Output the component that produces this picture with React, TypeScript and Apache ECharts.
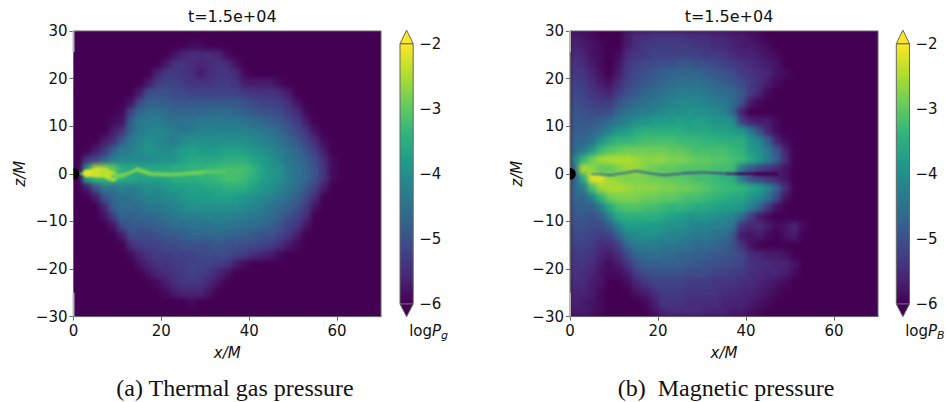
import React, { useEffect, useRef } from "react";
import * as echarts from "echarts";

// Levels are tenths of a dex above logP = -6 (0 => -6, 40 => -2). Rows run z=+29 ... z=-29 (step 2), columns x=1,3,5... (step 2); missing cells are 0.
const gasRows: number[][] = [
  [],
  [0,0,0,0,0,0,0,0,0,0,0,0,0,1,1],
  [0,0,0,0,0,0,0,0,0,0,0,2,4,5,5,5,4,1],
  [0,0,0,0,0,0,0,0,0,0,3,6,6,5,4,5,6,5,2],
  [0,0,0,0,0,0,0,0,0,4,7,7,6,5,3,5,6,6,5,1],
  [0,0,0,0,0,0,0,0,3,7,8,8,7,6,6,6,7,7,6,3,3,3,3,1],
  [0,0,0,0,0,0,0,3,9,10,10,9,9,8,8,8,8,8,8,7,6,6,6,5,3],
  [0,0,0,0,0,0,2,9,12,12,12,11,11,11,11,11,11,11,11,10,9,8,8,7,5,2],
  [0,0,0,0,0,1,8,13,15,15,14,13,13,13,13,14,14,14,13,12,11,10,10,9,7,5,1],
  [0,0,0,0,1,2,12,16,17,17,16,15,15,15,16,16,16,16,16,15,14,13,12,11,9,7,3],
  [0,0,0,0,3,6,13,17,18,19,18,17,16,17,18,18,18,18,18,18,17,16,15,13,11,9,6,2],
  [0,0,0,3,5,11,16,18,20,19,18,17,19,20,20,20,20,20,20,20,19,18,17,15,13,11,8,5,1],
  [0,0,3,6,12,17,17,19,21,20,19,20,22,23,22,22,22,23,23,22,21,20,19,17,15,13,10,7,3],
  [0,6,8,12,17,19,19,19,19,20,21,21,23,24,24,24,24,25,25,25,23,22,20,18,16,14,12,9,5,1],
  [0,20,34,33,30,25,24,24,24,24,24,25,25,26,26,27,27,28,28,28,26,23,21,20,17,15,13,10,6,1],
  [0,22,26,26,27,24,24,23,23,23,23,25,25,25,26,26,27,28,28,27,25,23,21,20,17,15,13,10,6,1],
  [0,3,10,16,15,18,17,18,20,19,21,22,22,23,23,24,24,25,25,25,23,21,20,18,16,14,11,8,3],
  [0,0,3,10,13,15,15,17,18,18,19,19,21,22,22,22,23,23,22,21,20,19,18,16,14,12,9,5],
  [0,0,0,4,12,14,14,14,16,16,17,18,19,20,20,20,20,20,20,19,18,17,15,14,12,10,7,2],
  [0,0,0,2,7,13,12,13,13,14,15,16,17,17,18,18,18,18,17,17,16,15,14,12,10,8,5],
  [0,0,0,0,2,9,11,11,11,12,13,14,14,15,15,15,16,15,15,14,14,13,12,10,8,6,2],
  [0,0,0,0,0,3,9,9,9,10,11,11,12,13,13,13,13,13,12,12,11,10,10,8,6,3],
  [0,0,0,0,0,0,5,7,8,8,9,9,10,10,10,10,11,10,10,9,9,8,7,5,3,1],
  [0,0,0,0,0,0,1,4,6,7,7,8,8,8,9,9,9,9,8,7,5,4,3,1],
  [0,0,0,0,0,0,0,2,4,6,6,7,7,8,8,8,7,6,3,1],
  [0,0,0,0,0,0,0,0,2,4,5,6,7,8,7,6,4,2],
  [0,0,0,0,0,0,0,0,0,1,3,5,6,6,6,4,2],
  [0,0,0,0,0,0,0,0,0,0,1,3,4,4,4,2],
  [0,0,0,0,0,0,0,0,0,0,0,0,0,1],
  [],
];

const magRows: number[][] = [
  [3,2,1,0,0,0,3,5,5,6,6,6,6,5,5,5,4,4,3,3,2,1],
  [4,3,2,1,0,0,3,5,7,7,7,7,7,7,6,6,5,5,4,3,3,2,1],
  [5,4,2,1,0,1,5,6,7,8,8,8,8,8,8,7,7,6,5,4,4,3,2,1],
  [6,5,3,1,0,2,6,8,9,9,10,10,11,11,10,10,9,8,7,6,5,4,3,2],
  [7,6,4,2,0,3,7,9,10,11,12,13,13,13,13,12,11,10,9,7,6,5,4,2,1],
  [8,7,5,3,2,5,8,10,11,12,13,14,15,15,15,14,13,12,11,9,7,5,3,1],
  [9,8,6,5,4,7,10,11,13,14,15,16,17,17,17,16,15,14,13,11,7,4,1],
  [10,9,8,7,7,10,12,14,15,16,17,18,19,19,19,18,17,16,14,10,3,1],
  [11,10,9,9,10,13,15,16,17,18,19,20,20,21,20,20,19,18,13,4],
  [11,11,11,12,14,16,18,20,21,22,22,22,23,22,23,22,21,21,20,8,4,3,3,1],
  [12,12,13,15,18,21,22,24,25,25,25,25,25,24,24,24,23,23,22,21,16,10,4,1],
  [13,13,15,20,24,26,26,27,28,28,28,28,27,27,27,26,26,25,25,25,21,18,12,4,1],
  [14,16,21,27,29,30,31,31,31,31,31,30,30,29,28,28,28,28,27,26,22,20,16,10,4],
  [18,26,31,34,35,35,35,34,33,33,33,32,32,31,30,30,29,29,28,27,24,21,17,12,5],
  [15,35,33,30,30,32,34,34,32,31,30,30,29,29,29,29,28,28,27,15,11,8,6,4,2],
  [12,24,38,38,34,33,32,32,32,31,31,30,30,29,28,28,27,26,25,16,10,8,6,4,2],
  [14,17,28,34,35,35,34,33,33,33,32,32,31,31,30,29,28,27,27,26,24,22,18,12,5],
  [13,13,18,26,31,32,32,32,31,31,30,30,29,28,28,27,26,25,24,24,21,19,15,9,2],
  [12,12,12,17,24,28,29,29,28,28,27,26,26,25,24,24,23,22,22,21,17,13,7,2],
  [11,11,10,12,18,24,25,25,25,25,24,23,22,21,21,21,20,19,18,14,8,3,1],
  [10,10,9,9,12,18,22,22,22,22,21,20,20,19,18,18,17,17,15,6,4,5,3,1,2,4,1],
  [9,9,8,7,8,12,18,19,20,20,19,18,18,17,16,16,15,14,11,3,2,3,1,0,2,3],
  [8,8,7,5,5,8,13,16,17,17,16,16,15,15,14,14,13,12,10,6,2],
  [7,7,6,4,3,5,9,13,14,15,14,14,13,13,12,12,11,11,10,9,5,4,3,3,2],
  [6,6,5,3,1,3,6,10,12,12,12,12,12,11,11,10,10,9,9,8,6,5,5,4,4,2],
  [6,5,4,2,1,1,3,7,9,10,10,10,10,9,9,9,8,8,7,7,5,5,4,4,3,1],
  [5,5,3,2,0,0,1,4,6,8,8,8,8,7,7,7,6,6,6,5,5,4,3,2,1],
  [4,4,3,1,0,0,0,2,3,5,7,7,7,6,6,6,6,5,5,4,4,3,2,1],
  [4,3,2,1,0,0,0,0,1,3,6,6,6,5,5,5,5,4,4,4,3,2,1],
  [3,3,2,1,0,0,0,0,0,2,4,5,5,5,5,4,4,4,3,3,2,1],
];

// thin features along the midplane: position, level, thickness in z units
const gasRidgeX = [1.5,3,5,7,9,11.4,14.5,17.5,22,26.6,30.4,35,38];
const gasRidgeZ = [0,0.1,0.2,0.2,-0.6,-0.3,0.9,0,-0.2,0.1,0.4,0.4,0.2];
const gasRidgeLevel = [32,38,37,36,31,32,32,31,31,31,29,28,27];
const gasRidgeThick = [0.4,1.6,2,2,1,0.7,0.9,0.9,0.8,0.9,1,1,1];

const magRidgeX = [5,7,9.1,12.5,15.2,18.2,21.3,25.8,30.4,35.8,38,42,47];
const magRidgeZ = [0,-0.1,-0.3,0.2,0.6,0.1,-0.3,0.1,0.3,0,0,0,0];
const magRidgeLevel = [16,15,14,13,13,12,11,9,8,4,0,0,0];
const magRidgeThick = [0.35,0.4,0.4,0.4,0.4,0.4,0.4,0.4,0.4,0.5,0.5,0.8,0.8];

const xTicks = [0, 20, 40, 60];
const zTicks = [-30, -20, -10, 0, 10, 20, 30];
const barTicks = [-6, -5, -4, -3, -2];
const holeCentre = [0, 0];
const markTop = [[0, 30], [0, 25.6]];
const markBottom = [[0, -30], [0, -25]];
const titleText = "t=1.5e+04";
const captions = ["(a) Thermal gas pressure", "(b)  Magnetic pressure"];

const VIRIDIS = ["#440154","#482878","#3e4989","#31688e","#26828e","#1f9e89","#35b779","#6ece58","#b5de2b","#fde725"];
const F = "DejaVu Sans";
const PANELS = [
  { left: 73.5, width: 307.5, barLeft: 400 },
  { left: 570, width: 308, barLeft: 896.3 },
];
const TOP = 31, PLOT_H = 285.6, BAR_TOP = 43.7, BAR_H = 260.3, BAR_W = 13.2;

const xAxisOf = (g: number, extra: any = {}) => ({ type: "value", gridIndex: g, min: 0, max: 70, interval: 20, ...extra });
const yAxisOf = (g: number, extra: any = {}) => ({ type: "value", gridIndex: g, min: -30, max: 30, interval: 10, ...extra });
const plotGrid = (p: any) => ({ left: p.left, top: TOP, width: p.width, height: PLOT_H });

const visual = (n: number) => ({ type: "continuous", show: false, dimension: 4, min: -6, max: -2, seriesIndex: n, inRange: { color: VIRIDIS } });

function cells(rows: number[][]) {
  const out: number[][] = [];
  rows.forEach((r, j) => {
    const zTop = 30 - 2 * j;
    for (let i = 0; i < 35; i++) {
      const level = r[i] ?? 0;
      out.push([2 * i, 2 * i + 2, zTop - 2, zTop, -6 + level / 10]);
    }
  });
  return out;
}
function ridge(xs: number[], zs: number[], ls: number[], ts: number[]) {
  return xs.slice(0, -1).map((x, i) => [x, xs[i + 1], zs[i], zs[i + 1], -6 + ls[i] / 10, ts[i]]);
}
const heatItem = (_: any, api: any) => {
  const a = api.coord([api.value(0), api.value(3)]);
  const b = api.coord([api.value(1), api.value(2)]);
  return { type: "rect", shape: { x: a[0], y: a[1], width: b[0] - a[0] + 0.6, height: b[1] - a[1] + 0.6 }, style: { fill: api.visual("color") } };
};
const ridgeItem = (_: any, api: any) => {
  const a = api.coord([api.value(0), api.value(2)]);
  const b = api.coord([api.value(1), api.value(3)]);
  const w = api.size([0, api.value(5)])[1];
  return { type: "line", shape: { x1: a[0], y1: a[1], x2: b[0], y2: b[1] }, style: { stroke: api.visual("color"), lineWidth: w, lineCap: "round" } };
};
const holeItem = (_: any, api: any) => {
  const c = api.coord([api.value(0), api.value(1)]);
  return { type: "sector", shape: { cx: c[0], cy: c[1], r0: 0, r: 5.8, startAngle: -Math.PI / 2, endAngle: Math.PI / 2 }, style: { fill: "#000" } };
};
const barItem = (params: any, api: any) => {
  const c = params.coordSys;
  const top = api.coord([0, api.value(1)])[1];
  const bot = api.coord([0, api.value(0)])[1];
  const x0 = c.x, x1 = c.x + c.width, mid = (x0 + x1) / 2;
  const stops = VIRIDIS.map((color, i) => ({ offset: i / (VIRIDIS.length - 1), color }));
  const edge = "#666";
  return {
    type: "group",
    children: [
      { type: "rect", shape: { x: x0, y: top, width: c.width, height: bot - top }, style: { fill: new echarts.graphic.LinearGradient(0, 1, 0, 0, stops), stroke: edge, lineWidth: 1 } },
      { type: "polygon", shape: { points: [[x0, top], [mid, top - 13.5], [x1, top]] }, style: { fill: VIRIDIS[9], stroke: edge, lineWidth: 1 } },
      { type: "polygon", shape: { points: [[x0, bot], [mid, bot + 12.7], [x1, bot]] }, style: { fill: VIRIDIS[0], stroke: edge, lineWidth: 1 } },
    ],
  };
};
const minus = (v: number) => String(v).replace("-", "\u2212");

export default function App() {
  const heatRef = useRef<HTMLDivElement>(null);
  const ridgeRef = useRef<HTMLDivElement>(null);
  const mainRef = useRef<HTMLDivElement>(null);
  useEffect(() => {
    const size = { renderer: "svg" as const, width: 947, height: 402 };
    const heat = echarts.init(heatRef.current!, undefined, size);
    const rid = echarts.init(ridgeRef.current!, undefined, size);
    const main = echarts.init(mainRef.current!, undefined, size);
    const hiddenAxes = {
      xAxis: PANELS.map((_, g) => xAxisOf(g, { show: false })),
      yAxis: PANELS.map((_, g) => yAxisOf(g, { show: false })),
      grid: PANELS.map(plotGrid),
    };
    heat.setOption({
      animation: false,
      ...hiddenAxes,
      visualMap: [visual(0), visual(1)],
      series: [gasRows, magRows].map((rows, g) => ({
        type: "custom", coordinateSystem: "cartesian2d", xAxisIndex: g, yAxisIndex: g, clip: true,
        encode: { x: [0, 1], y: [2, 3] }, renderItem: heatItem, data: cells(rows),
      })),
    });
    rid.setOption({
      animation: false,
      ...hiddenAxes,
      visualMap: [visual(0), visual(1)],
      series: [
        ridge(gasRidgeX, gasRidgeZ, gasRidgeLevel, gasRidgeThick),
        ridge(magRidgeX, magRidgeZ, magRidgeLevel, magRidgeThick),
      ].map((data, g) => ({
        type: "custom", coordinateSystem: "cartesian2d", xAxisIndex: g, yAxisIndex: g,
        encode: { x: [0, 1], y: [2, 3] }, renderItem: ridgeItem, data,
      })),
    });
    const tickStyle = { color: "#111", fontFamily: F, fontSize: 15 };
    const axisLine = { show: true, onZero: false, lineStyle: { color: "#666", width: 1 } };
    const axisTick = { show: true, length: 4, lineStyle: { color: "#666", width: 1 } };
    const series: any[] = [];
    PANELS.forEach((_, g) => {
      [markTop, markBottom].forEach((m) =>
        series.push({ type: "line", xAxisIndex: g, yAxisIndex: g, data: m, symbol: "none", clip: false, lineStyle: { color: "#b5b5b5", width: 2 }, silent: true }));
      series.push({ type: "custom", coordinateSystem: "cartesian2d", xAxisIndex: g, yAxisIndex: g, clip: false, renderItem: holeItem, encode: { x: 0, y: 1 }, data: [holeCentre], silent: true });
      series.push({ type: "custom", coordinateSystem: "cartesian2d", xAxisIndex: g + 2, yAxisIndex: g + 2, clip: false, renderItem: barItem, encode: { y: [0, 1] }, data: [[barTicks[0], barTicks[barTicks.length - 1]]], silent: true });
    });
    main.setOption({
      animation: false,
      backgroundColor: "transparent",
      title: [
        ...PANELS.map((p) => ({ text: titleText, left: p.left + p.width / 2, top: 3, textAlign: "center", textStyle: { fontFamily: F, fontSize: 16, fontWeight: "normal", color: "#111" } })),
        ...PANELS.map((_, i) => ({ text: captions[i], left: i === 0 ? 230 : 721, top: 371, textAlign: "center", textStyle: { fontFamily: "Liberation Serif", fontSize: 24, fontWeight: "normal", color: "#111" } })),
      ],
      grid: [
        ...PANELS.map((p) => ({ ...plotGrid(p), show: true, borderColor: "#666", borderWidth: 1, backgroundColor: "transparent" })),
        ...PANELS.map((p) => ({ left: p.barLeft, top: BAR_TOP, width: BAR_W, height: BAR_H })),
      ],
      xAxis: [
        ...PANELS.map((_, g) => xAxisOf(g, {
          customValues: xTicks, axisLine, axisTick: { ...axisTick, customValues: xTicks }, splitLine: { show: false },
          axisLabel: { ...tickStyle, margin: 7, customValues: xTicks },
          name: "x/M", nameLocation: "middle", nameGap: 29, nameTextStyle: { fontFamily: F, fontSize: 15, fontStyle: "italic", color: "#111" },
        })),
        ...PANELS.map((_, i) => ({ type: "value", gridIndex: i + 2, min: 0, max: 1, show: false })),
      ],
      yAxis: [
        ...PANELS.map((_, g) => yAxisOf(g, {
          axisLine, axisTick: { ...axisTick, customValues: zTicks }, splitLine: { show: false },
          axisLabel: { ...tickStyle, margin: 6, customValues: zTicks, formatter: minus },
          name: "z/M", nameLocation: "middle", nameGap: 46, nameTextStyle: { fontFamily: F, fontSize: 15, fontStyle: "italic", color: "#111" },
        })),
        ...PANELS.map((_, i) => ({
          type: "value", gridIndex: i + 2, position: "right", min: -6, max: -2, interval: 1,
          axisLine: { show: false }, axisTick: { ...axisTick, customValues: barTicks }, splitLine: { show: false },
          axisLabel: { ...tickStyle, margin: 6, customValues: barTicks, formatter: minus },
        })),
      ],
      graphic: ["g", "B"].map((sub, i) => ({
        type: "text", x: PANELS[i].barLeft + BAR_W / 2 + 22, y: 331, silent: true,
        style: {
          text: `{a|log}{b|P}{c|${sub}}`, align: "center", verticalAlign: "middle",
          rich: {
            a: { fontFamily: F, fontSize: 15, fill: "#111" },
            b: { fontFamily: F, fontSize: 15, fontStyle: "italic", fill: "#111" },
            c: { fontFamily: F, fontSize: 11, fontStyle: "italic", fill: "#111", verticalAlign: "bottom", padding: [8, 0, 0, 0] },
          },
        },
      })),
      series,
    });
    return () => { heat.dispose(); rid.dispose(); main.dispose(); };
  }, []);
  const layer = { position: "absolute", left: 0, top: 0, width: 947, height: 402 } as React.CSSProperties;
  const clip = `path('M73.5 31H381V316.6H73.5Z M570 31H878V316.6H570Z')`;
  return (
    <div style={{ ...layer, background: "#fff", overflow: "hidden" }}>
      <div style={{ ...layer, background: VIRIDIS[0], clipPath: clip }}>
        <div ref={heatRef} style={{ ...layer, filter: "blur(2.6px)" }} />
        <div ref={ridgeRef} style={{ ...layer, filter: "blur(0.8px)" }} />
      </div>
      <div ref={mainRef} style={layer} />
    </div>
  );
}
